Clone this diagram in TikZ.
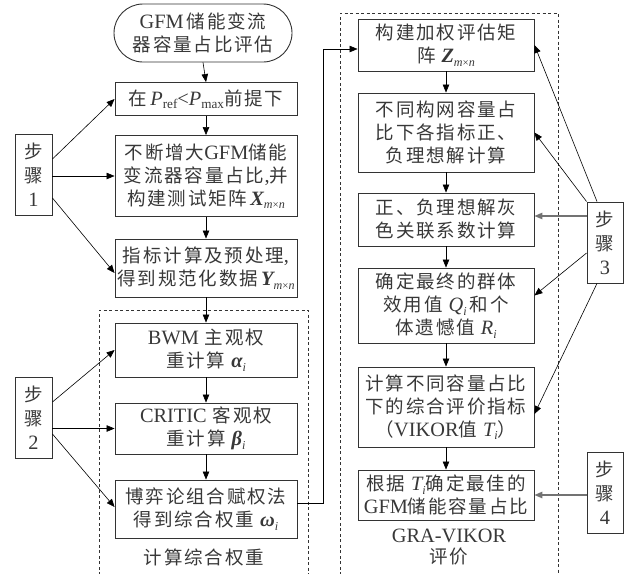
\documentclass[tikz,border=0pt]{standalone}
\usepackage{fontspec}
\setmainfont{Noto Sans CJK SC}[LetterSpace=10]
\newfontfamily\tr{Liberation Serif}[Scale=1.1]
\usetikzlibrary{arrows.meta}
\newcommand\mi[1]{{\tr\itshape #1}}
\newcommand\mbi[1]{{\tr\bfseries\itshape #1}}
\newcommand\sbi[1]{\raisebox{-3.5pt}{\fontsize{11}{11}\selectfont\tr\itshape #1}}
\newcommand\sbu[1]{\raisebox{-3.5pt}{\fontsize{12}{12}\selectfont\tr #1}}
\newcommand\tms{\raisebox{-3.5pt}{\fontsize{10}{10}\selectfont\tr ×}}
\begin{document}
\begin{tikzpicture}[x=1pt,y=-1pt,
  box/.style={draw=black!80, line width=0.9pt, align=center, inner sep=0pt, text=black!78, font=\fontsize{18.5}{23}\selectfont},
  lbox/.style={box, minimum width=182pt},
  rbox/.style={box, minimum width=176pt},
  stepbox/.style={box, minimum width=37pt, minimum height=81pt, font=\fontsize{18.5}{24}\selectfont},
  arr/.style={-{Triangle[length=8pt,width=6.5pt]}, line width=0.6pt, draw=black},
  garr/.style={-{Triangle[length=8pt,width=6.5pt]}, draw=black!55, line width=1.3pt},
  dashedframe/.style={draw=black!80, line width=0.8pt, dash pattern=on 3pt off 2.5pt},
  lab/.style={text=black!78, font=\fontsize{18.5}{21}\selectfont, align=center, inner sep=0pt}]
\useasboundingbox (0,0) rectangle (628,573);

% dashed frames
\draw[dashedframe] (99,575) -- (99,310) -- (308,310) -- (308,575);
\draw[dashedframe] (340,575) -- (340,13) -- (558,13) -- (558,575);

% left column
\node[box, minimum width=178pt, minimum height=58pt, rounded corners=29pt] (start) at (203,33)
  {{\tr GFM}\,储能变流\\器容量占比评估};
\node[lbox, minimum height=33pt] (s1) at (206,99)
  {在\,\mi{P}\sbu{ref}{\tr<}\mi{P}\sbu{max}前提下};
\node[lbox, minimum height=81pt] (s2) at (206,176)
  {不断增大{\tr GFM}储能\\变流器容量占比{\tr ,}并\\构建测试矩阵\,\mbi{X}\sbi{m}\tms\sbi{n}};
\node[lbox, minimum height=58pt] (s3) at (206,268)
  {指标计算及预处理{\tr ,}\\得到规范化数据\,\mbi{Y}\sbi{m}\tms\sbi{n}};
\node[lbox, minimum height=54pt] (w1) at (206,350)
  {{\tr BWM} 主观权\\重计算 \mbi{α}\sbi{i}};
\node[lbox, minimum height=51pt] (w2) at (206,428.5)
  {{\tr CRITIC} 客观权\\重计算 \mbi{β}\sbi{i}};
\node[lbox, minimum height=58pt] (w3) at (206,509)
  {博弈论组合赋权法\\得到综合权重 \mbi{ω}\sbi{i}};
\node[lab] (lab1) at (204,557) {计算综合权重};

\node[stepbox] (step1) at (33.5,175) {步\\骤\\{\tr 1}};
\node[stepbox] (step2) at (33.5,417.5) {步\\骤\\{\tr 2}};

% right column
\node[rbox, minimum height=52pt] (r1) at (446,45)
  {构建加权评估矩\\阵 \mbi{Z}\sbi{m}\tms\sbi{n}};
\node[rbox, minimum height=79pt] (r2) at (446,132.5)
  {不同构网容量占\\比下各指标正、\\负理想解计算};
\node[rbox, minimum height=53pt] (r3) at (446,219.5)
  {正、负理想解灰\\色关联系数计算};
\node[rbox, minimum height=75pt] (r4) at (446,305.5)
  {确定最终的群体\\效用值 \mi{Q}\sbi{i}\,和个\\体遗憾值 \mi{R}\sbi{i}};
\node[rbox, minimum height=80pt] (r5) at (446,407)
  {计算不同容量占比\\下的综合评价指标\\（{\tr VIKOR}值 \mi{T}\sbi{i}）};
\node[rbox, minimum height=50pt] (r6) at (446,495)
  {根据 \mi{T}\sbi{i}确定最佳的\\{\tr GFM}储能容量占比};
\node[lab] (lab2) at (449,547) {{\tr GRA-VIKOR}\\评价};

\node[stepbox, minimum width=36pt] (step3) at (605,242.5) {步\\骤\\{\tr 3}};
\node[stepbox, minimum width=36pt] (step4) at (605,492.5) {步\\骤\\{\tr 4}};

% main flow
\draw[arr] (start.south) -- (s1.north);
\draw[arr] (s1.south) -- (s2.north);
\draw[arr] (s2.south) -- (s3.north);
\draw[arr] (s3.south) -- (w1.north);
\draw[arr] (w1.south) -- (w2.north);
\draw[arr] (w2.south) -- (w3.north);
\draw[arr] ([yshift=6pt]w3.east) -- ++(26,0) |- ([yshift=-4pt]r1.west);
\draw[arr] (r1.south) -- (r2.north);
\draw[arr] (r2.south) -- (r3.north);
\draw[arr] (r3.south) -- (r4.north);
\draw[arr] (r4.south) -- (r5.north);
\draw[arr] (r5.south) -- (r6.north);

% step 1
\draw[arr] ([yshift=16pt]step1.east) -- (s1.west);
\draw[arr] (step1.east |- s2.west) -- (s2.west);
\draw[arr] ([yshift=-23pt]step1.east) -- ([yshift=-5pt]s3.west);
% step 2
\draw[arr] ([yshift=15.5pt]step2.east) -- (w1.west);
\draw[arr] (step2.east |- w2.west) -- (w2.west);
\draw[arr] ([yshift=-16.5pt]step2.east) -- ([yshift=2pt]w3.west);
% step 3
\draw[arr] ([xshift=-8pt]step3.north) -- (r1.east);
\draw[arr] (step3.north west) -- (r2.east);
\draw[garr] ([yshift=26.5pt]step3.west) -- ([yshift=26.5pt]step3.west -| r3.east);
\draw[arr] ([yshift=-10.5pt]step3.west) -- ([yshift=10pt]r4.east);
\draw[arr] ([xshift=-8pt]step3.south) -- ([yshift=-7pt]r5.east);
% step 4
\draw[garr] (step4.west |- r6.east) -- (r6.east);
\end{tikzpicture}
\end{document}
